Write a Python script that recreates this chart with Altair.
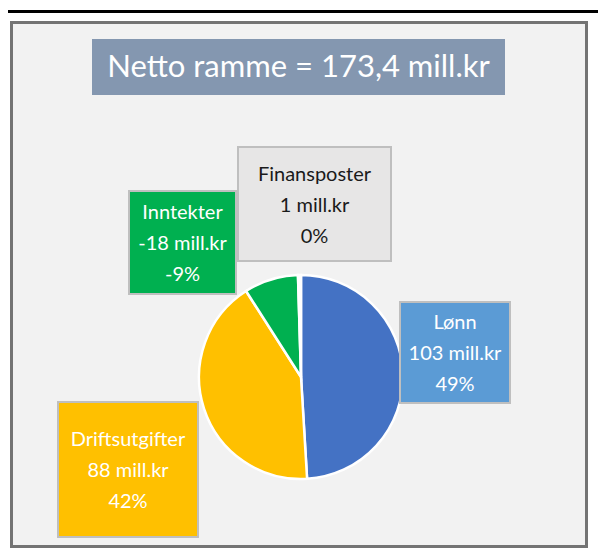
import altair as alt
import pandas as pd

# ---- data ----
categories = ["Lønn", "Driftsutgifter", "Inntekter", "Finansposter"]
values = [103, 88, -18, 1]          # mill.kr
percents = [49, 42, -9, 0]          # % shown on the labels
title_text = "Netto ramme = 173,4 mill.kr"

# ---- styles ----
slice_colors = ["#4472c4", "#ffc000", "#00b050", "#ffffff"]
box_colors = ["#5b9bd5", "#ffc000", "#00b050", "#e7e6e6"]
text_colors = ["#ffffff", "#ffffff", "#ffffff", "#1a1a1a"]
FONT = "Lato"
LINE_H = 31

# ---- layout (page pixels) ----
box_x = [400, 58, 129, 238]
box_x2 = [510, 198, 236, 391]
box_y = [302, 402, 191, 147]
box_y2 = [403, 537, 294, 261]
pie_cx, pie_cy, pie_r = 301, 377, 102

W, H = 590, 543
xs = alt.Scale(domain=[8, 8 + W], nice=False, zero=False)
ys = alt.Scale(domain=[8, 8 + H], nice=False, zero=False, reverse=True)

pie_df = pd.DataFrame({
    "name": categories,
    "size": [abs(v) for v in values],
    "idx": list(range(len(categories))),
    "col": slice_colors,
})

lab_df = pd.DataFrame({
    "name": categories,
    "x": box_x, "x2": box_x2, "y": box_y, "y2": box_y2,
    "fill": box_colors, "tcol": text_colors,
    "label": [f"{c}\n{v} mill.kr\n{p}%" for c, v, p in zip(categories, values, percents)],
})
lab_df["cx"] = (lab_df["x"] + lab_df["x2"]) / 2
lab_df["cy"] = (lab_df["y"] + lab_df["y2"]) / 2 + 1.5 - LINE_H

frame_df = pd.DataFrame({"x": [11.5], "x2": [586.5], "y": [22.5], "y2": [546.5]})
line_df = pd.DataFrame({"x": [8], "x2": [8 + W], "y": [10], "y2": [13]})
title_df = pd.DataFrame({"x": [92], "x2": [505], "y": [39], "y2": [95], "t": [title_text]})

frame = alt.Chart(frame_df).mark_rect(fill="#f2f2f2", stroke="#747474", strokeWidth=3).encode(
    x=alt.X("x:Q", scale=xs, axis=None), x2="x2:Q",
    y=alt.Y("y:Q", scale=ys, axis=None), y2="y2:Q")

topline = alt.Chart(line_df).mark_rect(fill="#000000").encode(
    x=alt.X("x:Q", scale=xs, axis=None), x2="x2:Q",
    y=alt.Y("y:Q", scale=ys, axis=None), y2="y2:Q")

title_box = alt.Chart(title_df).mark_rect(fill="#8497b0").encode(
    x=alt.X("x:Q", scale=xs, axis=None), x2="x2:Q",
    y=alt.Y("y:Q", scale=ys, axis=None), y2="y2:Q")

title_txt = alt.Chart(title_df).mark_text(
    font=FONT, fontSize=31, color="#ffffff", align="center", baseline="middle"
).encode(
    x=alt.X("mx:Q", scale=xs, axis=None),
    y=alt.Y("my:Q", scale=ys, axis=None),
    text="t:N",
).transform_calculate(mx="(datum.x + datum.x2) / 2", my="(datum.y + datum.y2) / 2 + 1")

pie = alt.Chart(pie_df).mark_arc(outerRadius=pie_r, stroke="#ffffff", strokeWidth=2.5).encode(
    theta=alt.Theta("size:Q", stack=True),
    order=alt.Order("idx:Q"),
    color=alt.Color("col:N", scale=None),
    x=alt.value(pie_cx - 8),
    y=alt.value(pie_cy - 8),
)

boxes = alt.Chart(lab_df).mark_rect(stroke="#bfbfbf", strokeWidth=2).encode(
    x=alt.X("x:Q", scale=xs, axis=None), x2="x2:Q",
    y=alt.Y("y:Q", scale=ys, axis=None), y2="y2:Q",
    fill=alt.Fill("fill:N", scale=None),
)

texts = alt.Chart(lab_df).mark_text(
    font=FONT, fontSize=20, lineBreak="\n", lineHeight=LINE_H, align="center", baseline="middle"
).encode(
    x=alt.X("cx:Q", scale=xs, axis=None),
    y=alt.Y("cy:Q", scale=ys, axis=None),
    text="label:N",
    color=alt.Color("tcol:N", scale=None),
)

chart = alt.layer(frame, topline, title_box, title_txt, pie, boxes, texts).properties(
    width=W, height=H, padding=0, autosize=alt.AutoSizeParams(type="none"),
    background="#ffffff",
).configure_view(stroke=None)

chart.save("out.html", embed_options={"renderer": "svg", "actions": False})
